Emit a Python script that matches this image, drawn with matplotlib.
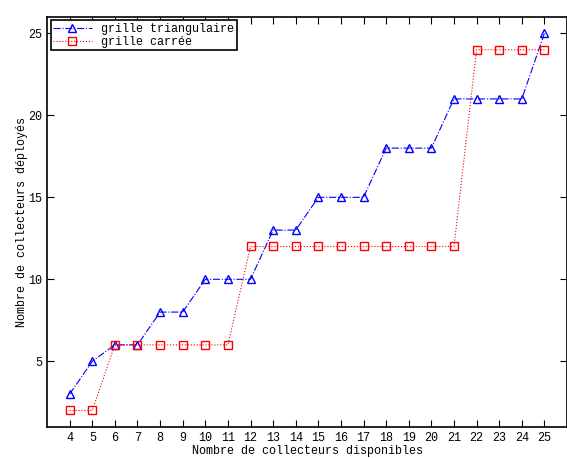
import matplotlib
matplotlib.use("Agg")
import matplotlib.pyplot as plt

plt.rcParams['font.family'] = ['Liberation Mono', 'DejaVu Sans Mono']
plt.rcParams['font.size'] = 8.5

collecteurs = list(range(4, 26))
triangulaire = [3, 5, 6, 6, 8, 8, 10, 10, 10, 13, 13, 15, 15, 15, 18, 18, 18, 21, 21, 21, 21, 25]
carree = [2, 2, 6, 6, 6, 6, 6, 6, 12, 12, 12, 12, 12, 12, 12, 12, 12, 12, 24, 24, 24, 24]

fig = plt.figure(figsize=(5.67, 4.58), dpi=100)
ax = fig.add_axes([0.083, 0.068, 0.917, 0.895])

ax.plot(collecteurs, triangulaire, color="blue", linestyle="-.", marker="^",
        markerfacecolor="none", markersize=6, linewidth=0.8, label="grille triangulaire")
ax.plot(collecteurs, carree, color="red", linestyle=":", marker="s",
        markerfacecolor="none", markersize=6, linewidth=0.8, label="grille carrée")

ax.set_xlim(3, 26)
ax.set_ylim(1, 26)
ax.set_xticks(collecteurs)
ax.set_yticks([5, 10, 15, 20, 25])
ax.tick_params(direction="in", top=True, right=True, length=5)
for s in ax.spines.values():
    s.set_linewidth(1.2)

ax.set_xlabel("Nombre de collecteurs disponibles", labelpad=1)
ax.set_ylabel("Nombre de collecteurs déployés", labelpad=0.5)

leg = ax.legend(loc="upper left", fancybox=False, framealpha=1, edgecolor="black",
                borderpad=0.2, handlelength=3.3, labelspacing=0.1, borderaxespad=0.3)
leg.get_frame().set_linewidth(1.2)

fig.savefig("out.png", dpi=100)
